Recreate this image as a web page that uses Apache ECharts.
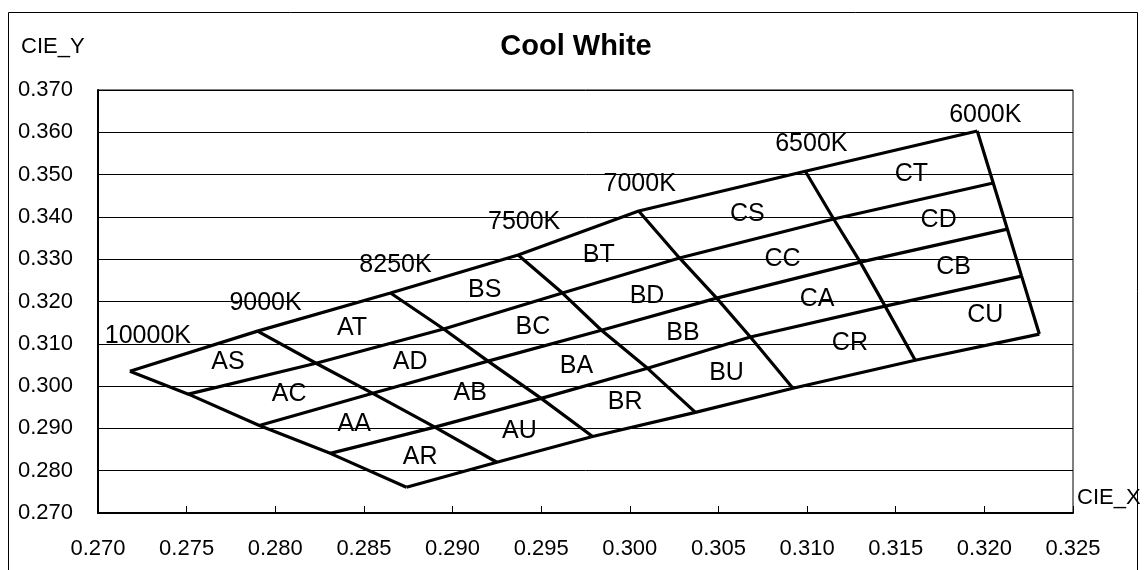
<!DOCTYPE html>
<html>
<head>
<meta charset="utf-8">
<script src="https://cdn.jsdelivr.net/npm/echarts@6/dist/echarts.min.js"></script>
<style>
html,body{margin:0;padding:0;background:#fff;}
#chart{width:1145px;height:570px;}
</style>
</head>
<body>
<div id="chart"></div>
<script>
// ---- Data (CIE x, CIE y) along each isotherm, from top row line to bottom row line ----
const cctNames = ['10000K', '9000K', '8250K', '7500K', '7000K', '6500K', '6000K'];
const cct10000K = [[0.2718, 0.3035], [0.2751, 0.2981], [0.2791, 0.2907], [0.2831, 0.2841], [0.2874, 0.2761]];
const cct9000K  = [[0.2790, 0.3130], [0.2823, 0.3054], [0.2855, 0.2983], [0.2890, 0.2903], [0.2925, 0.2820]];
const cct8250K  = [[0.2865, 0.3220], [0.2895, 0.3135], [0.2920, 0.3059], [0.2950, 0.2971], [0.2979, 0.2881]];
const cct7500K  = [[0.2937, 0.3310], [0.2962, 0.3220], [0.2984, 0.3132], [0.3010, 0.3042], [0.3037, 0.2938]];
const cct7000K  = [[0.3005, 0.3414], [0.3028, 0.3303], [0.3049, 0.3208], [0.3068, 0.3116], [0.3092, 0.2995]];
const cct6500K  = [[0.3099, 0.3508], [0.3115, 0.3395], [0.3130, 0.3293], [0.3144, 0.3189], [0.3161, 0.3061]];
const cct6000K  = [[0.3196, 0.3603], [0.3205, 0.3480], [0.3213, 0.3371], [0.3221, 0.3260], [0.3231, 0.3123]];

// Bin names per column (between consecutive isotherms), top row to bottom row
const binCol1 = ['AS', 'AC', 'AA', 'AR'];
const binCol2 = ['AT', 'AD', 'AB', 'AU'];
const binCol3 = ['BS', 'BC', 'BA', 'BR'];
const binCol4 = ['BT', 'BD', 'BB', 'BU'];
const binCol5 = ['CS', 'CC', 'CA', 'CR'];
const binCol6 = ['CT', 'CD', 'CB', 'CU'];

const xTicks = { min: 0.270, max: 0.325, interval: 0.005 };
const yTicks = { min: 0.270, max: 0.370, interval: 0.010 };

// ---- Styles / label placement (pixels) ----
const FONT = 'Liberation Sans, Arial, Helvetica, sans-serif';
const cctLabelOffset = [[18, -35], [8, -28], [5, -28], [6, -33], [1, -27], [6, -27], [8, -16]];
const binLabelOffset = {
  AS: [5, -3], AC: [5, 0], AA: [5, -1], AR: [3, 0],
  AT: [0, -1], AD: [5, 0], AB: [11, -2], AU: [3, 0],
  BS: [6, -2], BC: [9, -1], BA: [7, 2], BR: [6, -2],
  BT: [-1, 1], BD: [7, 1], BB: [4, 0], BU: [5, -3],
  CS: [8, -1], CC: [10, 0], CA: [14, -2], CR: [14, -5],
  CT: [9, -2], CD: [15, -3], CB: [10, -1], CU: [20, -4]
};

const isotherms = [cct10000K, cct9000K, cct8250K, cct7500K, cct7000K, cct6500K, cct6000K];
const binCols = [binCol1, binCol2, binCol3, binCol4, binCol5, binCol6];

const lineStyle = { color: '#000', width: 3.2 };
const series = [];
isotherms.forEach((pts, i) => {
  series.push({ type: 'line', name: cctNames[i], data: pts, symbol: 'none', lineStyle, silent: true, animation: false, z: 3 });
});
for (let r = 0; r < 5; r++) {
  series.push({ type: 'line', name: 'row' + r, data: isotherms.map(p => p[r]), symbol: 'none', lineStyle, silent: true, animation: false, z: 3 });
}
const labelBase = { show: true, position: 'inside', color: '#000', fontSize: 25, fontFamily: FONT, align: 'center', verticalAlign: 'middle', opacity: 1 };
// CCT labels at the top vertex of each isotherm
series.push({
  type: 'scatter', silent: true, animation: false, symbolSize: 2, itemStyle: { color: 'rgba(0,0,0,0)' }, z: 5,
  data: isotherms.map((p, i) => ({
    value: p[0],
    label: Object.assign({}, labelBase, { formatter: cctNames[i], offset: cctLabelOffset[i] })
  }))
});
// Bin labels at quad centroids
const binData = [];
binCols.forEach((col, c) => {
  col.forEach((name, r) => {
    const q = [isotherms[c][r], isotherms[c + 1][r], isotherms[c + 1][r + 1], isotherms[c][r + 1]];
    const cx = q.reduce((s, p) => s + p[0], 0) / 4;
    const cy = q.reduce((s, p) => s + p[1], 0) / 4;
    binData.push({
      value: [cx, cy],
      label: Object.assign({}, labelBase, { formatter: name, offset: binLabelOffset[name] })
    });
  });
});
series.push({ type: 'scatter', silent: true, animation: false, symbolSize: 2, itemStyle: { color: 'rgba(0,0,0,0)' }, z: 5, data: binData });

const chart = echarts.init(document.getElementById('chart'), null, { renderer: 'canvas' });
chart.setOption({
  backgroundColor: '#fff',
  animation: false,
  grid: { left: 98, right: 72, top: 90, bottom: 57, show: true, borderColor: '#000', borderWidth: 1, backgroundColor: 'transparent' },
  xAxis: {
    type: 'value', min: xTicks.min, max: xTicks.max, interval: xTicks.interval,
    axisLine: { show: true, onZero: false, lineStyle: { color: '#000', width: 2 } },
    axisTick: { show: true, inside: true, length: 7, lineStyle: { color: '#000', width: 1 } },
    splitLine: { show: false },
    axisLabel: { color: '#000', fontSize: 22, fontFamily: FONT, margin: 25, formatter: v => v.toFixed(3) }
  },
  yAxis: {
    type: 'value', min: yTicks.min, max: yTicks.max, interval: yTicks.interval,
    axisLine: { show: true, onZero: false, lineStyle: { color: '#000', width: 2 } },
    axisTick: { show: true, inside: true, length: 7, lineStyle: { color: '#000', width: 1 } },
    splitLine: { show: true, lineStyle: { color: '#000', width: 1 } },
    axisLabel: { color: '#000', fontSize: 22, fontFamily: FONT, margin: 25, formatter: v => v.toFixed(3) }
  },
  graphic: [
    { type: 'rect', z: -10, silent: true, shape: { x: 8.5, y: 12.5, width: 1129, height: 600 }, style: { fill: 'none', stroke: '#000', lineWidth: 1 } },
    { type: 'text', silent: true, style: { text: 'Cool White', x: 576, y: 47, textAlign: 'center', textVerticalAlign: 'middle', font: 'bold 29px ' + FONT, fill: '#000' } },
    { type: 'text', silent: true, style: { text: 'CIE_Y', x: 21, y: 47, textAlign: 'left', textVerticalAlign: 'middle', font: '22px ' + FONT, fill: '#000' } },
    { type: 'text', silent: true, style: { text: 'CIE_X', x: 1077, y: 498, textAlign: 'left', textVerticalAlign: 'middle', font: '22px ' + FONT, fill: '#000' } }
  ],
  series
});
</script>
</body>
</html>
